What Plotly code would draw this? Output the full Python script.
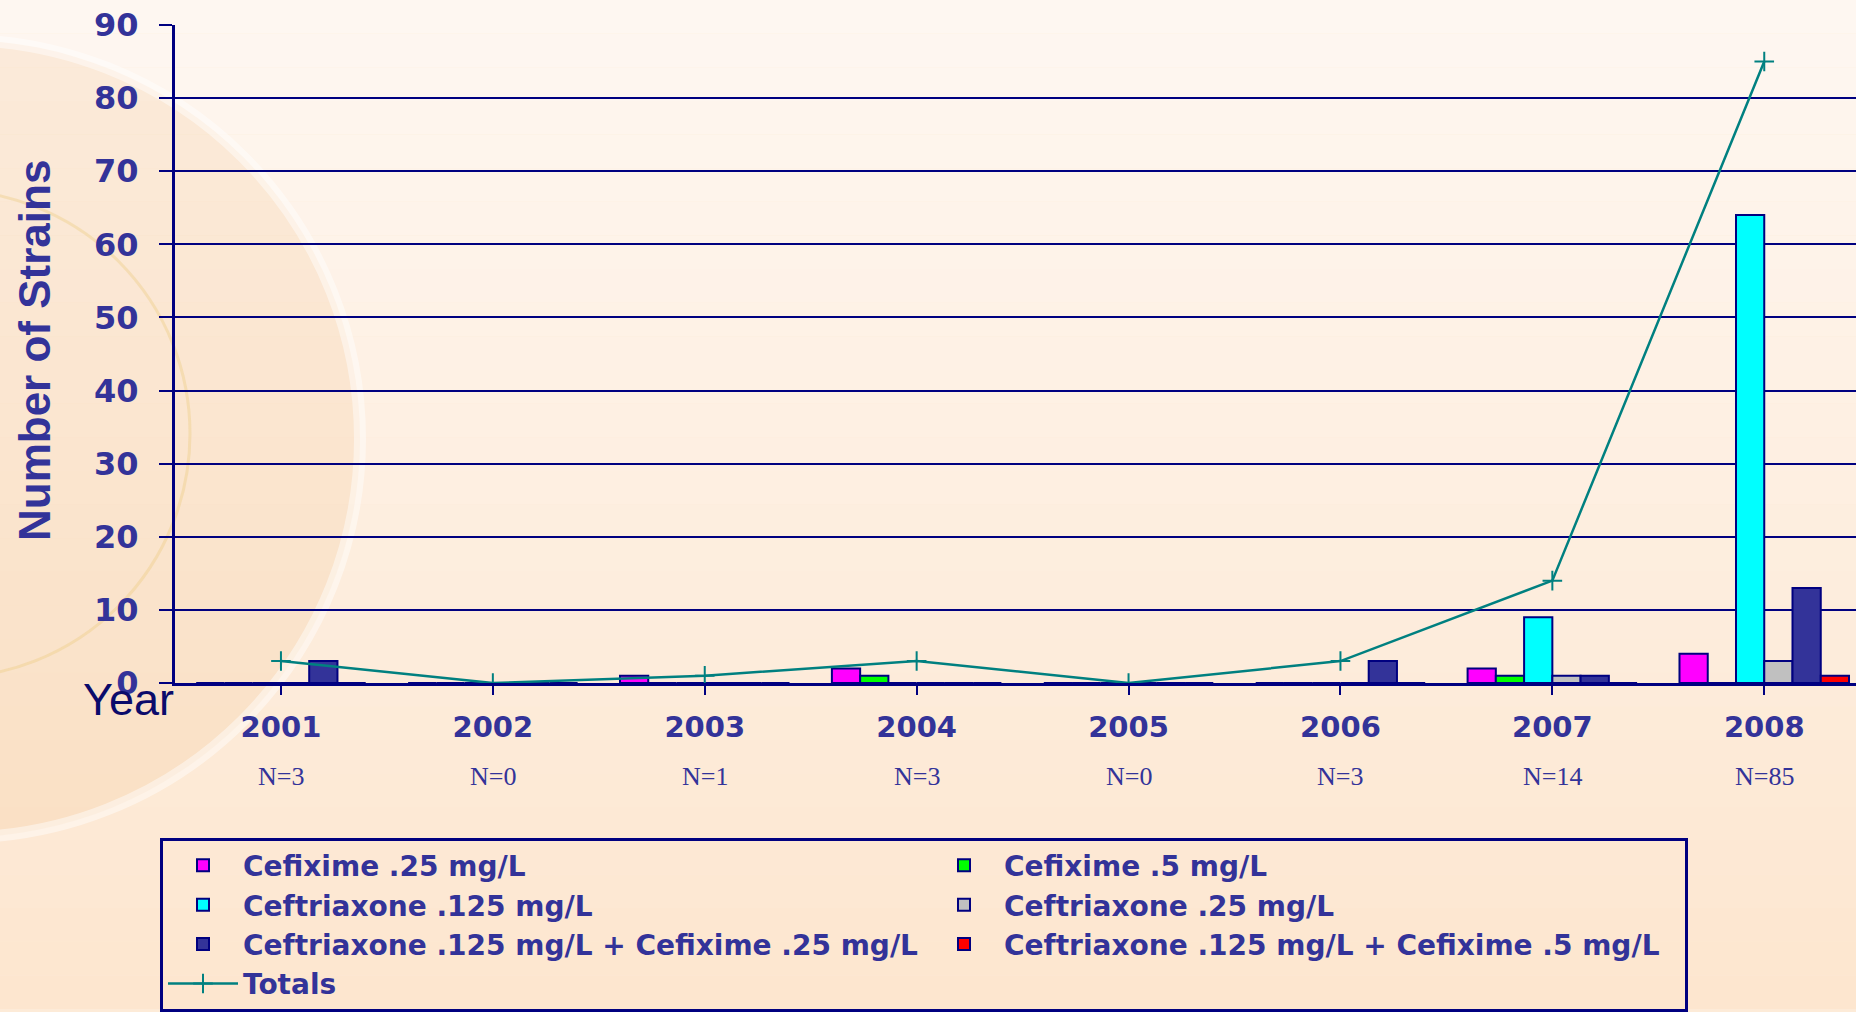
import plotly.graph_objects as go

# data
years = ["2001", "2002", "2003", "2004", "2005", "2006", "2007", "2008"]
n_labels = ["N=3", "N=0", "N=1", "N=3", "N=0", "N=3", "N=14", "N=85"]

cefixime_025 = [0, 0, 1, 2, 0, 0, 2, 4]
cefixime_05 = [0, 0, 0, 1, 0, 0, 1, 0]
ceftriaxone_0125 = [0, 0, 0, 0, 0, 0, 9, 64]
ceftriaxone_025 = [0, 0, 0, 0, 0, 0, 1, 3]
combo_025 = [3, 0, 0, 0, 0, 3, 1, 13]
combo_05 = [0, 0, 0, 0, 0, 0, 0, 1]
totals = [3, 0, 1, 3, 0, 3, 14, 85]

series = [
    ("Cefixime .25 mg/L", cefixime_025, "#ff00ff"),
    ("Cefixime .5 mg/L", cefixime_05, "#00ff00"),
    ("Ceftriaxone .125 mg/L", ceftriaxone_0125, "#00ffff"),
    ("Ceftriaxone .25 mg/L", ceftriaxone_025, "#c0c0c0"),
    ("Ceftriaxone .125 mg/L + Cefixime .25 mg/L", combo_025, "#333399"),
    ("Ceftriaxone .125 mg/L + Cefixime .5 mg/L", combo_05, "#ff0000"),
]

NAVY = "#000080"
INK = "#333399"
TEAL = "#008080"
W, H = 1856, 1012
L, T, B = 175, 25, 327          # plot area in px
PW, PH = W - L, H - T - B


def px(x):
    return (x - L) / PW


def py(y):
    return (H - B - y) / PH


fig = go.Figure()
x = list(range(len(years)))
for name, vals, col in series:
    fig.add_trace(go.Bar(
        x=x, y=vals, name=name,
        marker=dict(color=col, line=dict(color=NAVY, width=2)),
    ))
fig.add_trace(go.Scatter(
    x=x, y=totals, name="Totals", mode="lines+markers",
    line=dict(color=TEAL, width=2.5),
    marker=dict(symbol="cross-thin", size=14, color=TEAL, line=dict(color=TEAL, width=2)),
))

# background: soft peach gradient + faint globe on the left
shapes = []
top, bot = (254, 247, 241), (253, 230, 207)
nb = 30
for i in range(nb):
    f = i / (nb - 1)
    c = tuple(round(top[k] + (bot[k] - top[k]) * f) for k in range(3))
    shapes.append(dict(type="rect", xref="paper", yref="paper", layer="below",
                       x0=px(0), x1=px(W), y0=py(H * (i + 1) / nb), y1=py(H * i / nb),
                       fillcolor="rgb(%d,%d,%d)" % c, line=dict(width=0)))
shapes.append(dict(type="circle", xref="paper", yref="paper", layer="below",
                   x0=px(-440), x1=px(360), y0=py(840), y1=py(40),
                   fillcolor="rgba(245,200,150,0.25)", line=dict(color="rgba(255,255,255,0.45)", width=12)))
shapes.append(dict(type="circle", xref="paper", yref="paper", layer="below",
                   x0=px(-300), x1=px(190), y0=py(680), y1=py(190),
                   fillcolor="rgba(0,0,0,0)", line=dict(color="rgba(235,200,120,0.35)", width=3)))

annotations = []
for i, t in enumerate(n_labels):
    annotations.append(dict(x=i, y=py(779), xref="x", yref="paper", text=t, showarrow=False,
                            xanchor="center", yanchor="middle",
                            font=dict(family="Liberation Serif", size=26, color=INK)))
annotations.append(dict(x=px(34), y=py(352), xref="paper", yref="paper", text="<b>Number of Strains</b>",
                        textangle=-90, showarrow=False, xanchor="center", yanchor="middle",
                        font=dict(family="Liberation Sans", size=44, color=INK)))
annotations.append(dict(x=px(128), y=py(702), xref="paper", yref="paper", text="Year", showarrow=False,
                        xanchor="center", yanchor="middle",
                        font=dict(family="Liberation Sans", size=45, color="#0b0b6b")))

fig.update_layout(
    width=W, height=H,
    margin=dict(l=L, r=0, t=T, b=B),
    paper_bgcolor="#fdebd8", plot_bgcolor="rgba(0,0,0,0)",
    barmode="group", bargap=0.2, bargroupgap=0,
    shapes=shapes, annotations=annotations,
    font=dict(family="DejaVu Sans", color=INK),
    legend=dict(
        orientation="h", x=px(160), y=py(840), xanchor="left", yanchor="top",
        entrywidth=676, entrywidthmode="pixels", itemwidth=70,
        bgcolor="rgba(0,0,0,0)", bordercolor=NAVY, borderwidth=3,
        font=dict(family="DejaVu Sans", size=28, color=INK, weight="bold"),
    ),
    xaxis=dict(
        range=[-0.5, -0.5 + PW / 211.9], tickvals=x, ticktext=years,
        tickson="boundaries", ticks="outside", ticklen=9, tickwidth=2, tickcolor=NAVY,
        showline=True, linecolor=NAVY, linewidth=3, showgrid=False, zeroline=False,
        ticklabelstandoff=7,
        tickfont=dict(family="DejaVu Sans", size=29, color=INK, weight="bold"),
    ),
    yaxis=dict(
        range=[0, 90], dtick=10, ticks="outside", ticklen=13, tickwidth=2, tickcolor=NAVY,
        showline=True, linecolor=NAVY, linewidth=3, gridcolor=NAVY, gridwidth=2, zeroline=False,
        ticklabelstandoff=14,
        tickfont=dict(family="DejaVu Sans", size=32, color=INK, weight="bold"),
    ),
)

fig.write_html("out.html", config={"displayModeBar": False},
               post_script="document.body.style.margin='0';")
